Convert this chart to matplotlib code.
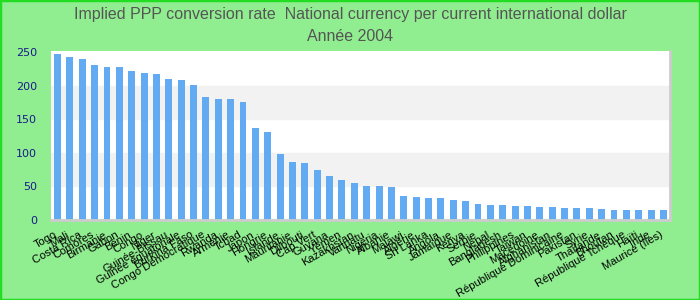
import matplotlib
matplotlib.use('Agg')
import matplotlib.pyplot as plt
import matplotlib.transforms as mtransforms
from matplotlib.patches import Rectangle
import numpy as np

# Implied PPP conversion rate, 2004
countries = [
    'Togo', 'Mali', 'Costa Rica', 'Comores', 'Birmanie', 'Gabon', 'Bénin',
    'Congo', 'Niger', 'Guinée-Bissau', 'Guinée équatoriale', 'Burkina Faso',
    'Congo Démocratique', 'Rwanda', 'Arménie', 'Tchad', 'Japon', 'Hongrie',
    'Islande', 'Mauritanie', 'Djibouti', 'Cap Vert', 'Guyana', 'Yémen',
    'Kazakhstan', 'Vanuatu', 'Nigeria', 'Albanie', 'Malawi', 'Algérie',
    'Sri Lanka', 'Angola', 'Jamaïque', 'Kenya', 'Serbie', 'Népal',
    'Bangladesh', 'Philippines', 'Taiwan', 'Macédoine', 'Afghanistan',
    'République Dominicaine', 'Pakistan', 'Syrie', 'Thaïlande', 'Bhoutan',
    'République Tchèque', 'Haïti', 'Inde', 'Maurice (îles)',
]
values = [
    247, 243, 240, 230, 228, 228, 222, 219, 217, 210,
    208, 201, 183, 180, 180, 176, 137, 131, 98, 86,
    85, 74, 65, 60, 55, 51, 51, 49, 36, 34.5,
    33, 33, 30, 28, 24, 22.5, 22.5, 21, 21, 19.5,
    19.5, 18, 18, 18, 16.5, 15, 15, 15, 15, 15,
]
yticks = [0, 50, 100, 150, 200, 250]

bg = '#90ee90'
fig = plt.figure(figsize=(7, 3), dpi=100, facecolor=bg)
fig.patches.append(Rectangle((0, 0), 1, 1, transform=fig.transFigure,
                             fill=False, edgecolor='#22dd22', linewidth=2.5))
ax = fig.add_axes([0.073, 0.267, 0.884, 0.563])
ax.set_facecolor('white')

# alternating bands
for lo, hi in [(50, 100), (150, 200)]:
    ax.axhspan(lo, hi, color='#f2f2f2', zorder=0)

x = np.arange(len(countries))
ax.bar(x, values, width=0.56, color='#62aaf2', zorder=2)

ax.set_xlim(-0.52, len(countries) - 0.48)
ax.set_ylim(0, 251.5)
ax.set_yticks(yticks)
ax.tick_params(axis='y', length=0, pad=10, labelsize=8, labelcolor='#1a1a8c')
ax.set_xticks(x)
ax.set_xticklabels(countries, rotation=30, ha='right', rotation_mode='anchor',
                   fontsize=8, family='Liberation Sans')
ax.tick_params(axis='x', length=0, pad=7)
# labels sit a bit left of their bars in the original
shift = mtransforms.ScaledTranslation(-4 / 100, 0, fig.dpi_scale_trans)
for lbl in ax.get_xticklabels():
    lbl.set_transform(lbl.get_transform() + shift)

for side in ['top', 'left']:
    ax.spines[side].set_visible(False)
for side in ['right', 'bottom']:
    ax.spines[side].set_color('#cccccc')
    ax.spines[side].set_linewidth(2)

fig.text(0.5, 0.953, 'Implied PPP conversion rate  National currency per current international dollar',
         ha='center', va='center', fontsize=11.5, color='#555555', family='Liberation Sans')
fig.text(0.5, 0.877, 'Année 2004', ha='center', va='center', fontsize=11.5,
         color='#555555', family='Liberation Sans')

fig.savefig('out.png', dpi=100, facecolor=bg)
